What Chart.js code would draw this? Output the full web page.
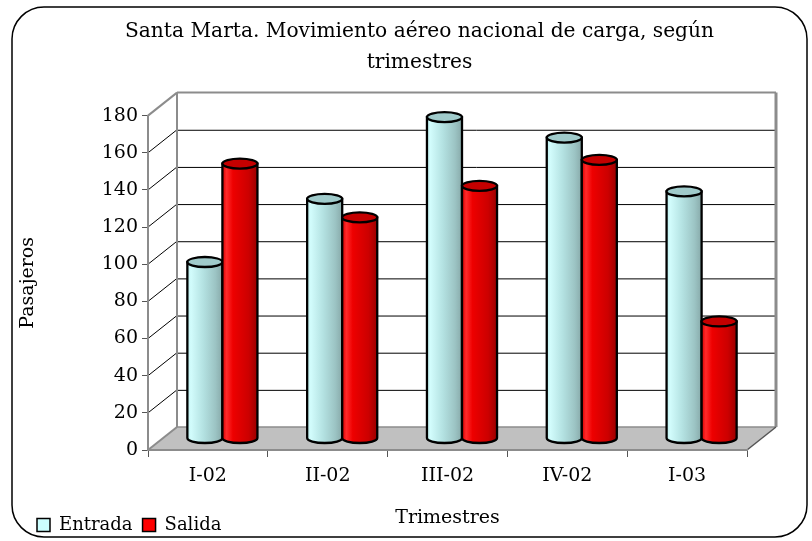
<!DOCTYPE html>
<html>
<head>
<meta charset="utf-8">
<script src="https://cdn.jsdelivr.net/npm/chart.js@4"></script>
<style>
  html, body { margin: 0; padding: 0; background: #fff; }
  #wrap { width: 812px; height: 541px; }
</style>
</head>
<body>
<div id="wrap"><canvas id="chart" width="812" height="541"></canvas></div>
<script>
// data
const trimestres = ["I-02", "II-02", "III-02", "IV-02", "I-03"];
const entrada = [95, 129, 173, 162, 133];
const salida = [148, 119, 136, 150, 63];
const yTicks = [0, 20, 40, 60, 80, 100, 120, 140, 160, 180];

// depth of the fake 3d box
const DX = 29, DY = 23;

const cylColors = [
  { stops: [[0, "#bdeeee"], [0.1, "#d2fcfc"], [0.45, "#b4e2e2"], [0.8, "#9cc4c4"], [1, "#88aaaa"]], top: "#a0cbcb" },
  { stops: [[0, "#d80000"], [0.12, "#ff2a2a"], [0.3, "#ee0000"], [0.75, "#cc0000"], [1, "#9a0000"]], top: "#c40000" }
];

function drawCylinder(ctx, cx, top, bottom, w, col) {
  const rx = w / 2, ry = 5;
  const g = ctx.createLinearGradient(cx - rx, 0, cx + rx, 0);
  col.stops.forEach(s => g.addColorStop(s[0], s[1]));
  ctx.beginPath();
  ctx.moveTo(cx - rx, top);
  ctx.lineTo(cx - rx, bottom);
  ctx.ellipse(cx, bottom, rx, ry, 0, Math.PI, 0, true);
  ctx.lineTo(cx + rx, top);
  ctx.closePath();
  ctx.fillStyle = g;
  ctx.fill();
  ctx.lineWidth = 2.3;
  ctx.strokeStyle = "#000";
  ctx.stroke();
  ctx.beginPath();
  ctx.ellipse(cx, top, rx, ry, 0, 0, Math.PI * 2);
  ctx.fillStyle = col.top;
  ctx.fill();
  ctx.stroke();
}

function line(ctx, x1, y1, x2, y2, color, w) {
  ctx.beginPath();
  ctx.moveTo(x1, y1);
  ctx.lineTo(x2, y2);
  ctx.strokeStyle = color;
  ctx.lineWidth = w;
  ctx.stroke();
}

const box3d = {
  id: "box3d",
  beforeDraw(chart) {
    const ctx = chart.ctx;
    const a = chart.chartArea;
    const ys = chart.scales.y;
    const y0 = ys.getPixelForValue(0);
    const yTop = ys.getPixelForValue(180);
    ctx.save();
    // floor
    ctx.beginPath();
    ctx.moveTo(a.left, y0);
    ctx.lineTo(a.right, y0);
    ctx.lineTo(a.right + DX, y0 - DY);
    ctx.lineTo(a.left + DX, y0 - DY);
    ctx.closePath();
    ctx.fillStyle = "#c0c0c0";
    ctx.fill();
    // back wall grid + side diagonals
    yTicks.forEach(v => {
      const p = ys.getPixelForValue(v);
      if (v > 0 && v < 180) {
        line(ctx, a.left + DX, p - DY + 0.5, a.right + DX, p - DY + 0.5, "#000", 1);
        line(ctx, a.left, p, a.left + DX, p - DY, "#000", 1);
      }
    });
    line(ctx, a.left, yTop, a.left + DX, yTop - DY, "#8c8c8c", 2);
    line(ctx, a.left + DX, yTop - DY, a.right + DX, yTop - DY, "#8c8c8c", 2);
    line(ctx, a.left + DX, yTop - DY, a.left + DX, y0 - DY, "#8c8c8c", 2);
    line(ctx, a.right + DX, yTop - DY, a.right + DX, y0 - DY, "#8c8c8c", 3);
    line(ctx, a.left, y0, a.left + DX, y0 - DY, "#8c8c8c", 2);
    line(ctx, a.left + DX, y0 - DY, a.right + DX, y0 - DY, "#8c8c8c", 1.5);
    line(ctx, a.right, y0, a.right + DX, y0 - DY, "#555", 1.5);
    ctx.restore();
  },
  beforeDatasetsDraw(chart) {
    const ctx = chart.ctx;
    ctx.save();
    chart.data.labels.forEach((lab, i) => {
      chart.data.datasets.forEach((ds, d) => {
        const el = chart.getDatasetMeta(d).data[i];
        drawCylinder(ctx, el.x + DX / 2, el.y - DY / 2, el.base - DY / 2, el.width, cylColors[d]);
      });
    });
    ctx.restore();
    return false;
  },
  afterDraw(chart) {
    const ctx = chart.ctx;
    ctx.save();
    ctx.beginPath();
    ctx.roundRect(12, 7, 795, 530, 32);
    ctx.strokeStyle = "#000";
    ctx.lineWidth = 1.5;
    ctx.stroke();
    ctx.restore();
  }
};

Chart.defaults.font.family = "'DejaVu Serif', serif";
Chart.defaults.color = "#000";

new Chart(document.getElementById("chart"), {
  type: "bar",
  data: {
    labels: trimestres,
    datasets: [
      { label: "Entrada", data: entrada, backgroundColor: "#ccffff", borderColor: "#000", borderWidth: 1.5 },
      { label: "Salida", data: salida, backgroundColor: "#ff0000", borderColor: "#000", borderWidth: 1.5 }
    ]
  },
  options: {
    responsive: false,
    animation: false,
    layout: { padding: { left: 27, right: 0, top: 0, bottom: -3 } },
    datasets: { bar: { categoryPercentage: 0.585, barPercentage: 1.0 } },
    plugins: {
      title: {
        display: true,
        text: ["Santa Marta. Movimiento aéreo nacional de carga, según", "trimestres"],
        font: { size: 20.2, weight: "normal", lineHeight: 1.55 },
        color: "#000",
        padding: { top: 16, bottom: 37 }
      },
      legend: {
        position: "bottom",
        align: "start",
        labels: { boxWidth: 13, boxHeight: 13, padding: 10, font: { size: 18 }, color: "#000" }
      },
      tooltip: { enabled: false }
    },
    scales: {
      x: {
        grid: { display: true, drawOnChartArea: false, drawTicks: true, tickLength: 7, color: "#555" },
        border: { display: true, color: "#8c8c8c", width: 2 },
        ticks: { font: { size: 19 }, padding: 8, color: "#000" },
        title: { display: true, text: "Trimestres", font: { size: 19 }, padding: { top: 0, bottom: -23 } },
        afterFit(s) { s.height = 56; }
      },
      y: {
        min: 0, max: 180,
        grid: { display: true, drawOnChartArea: false, drawTicks: true, tickLength: 6, color: "#555" },
        border: { display: true, color: "#8c8c8c", width: 2 },
        ticks: { stepSize: 20, font: { size: 19 }, padding: 4, color: "#000" },
        title: { display: true, text: "Pasajeros", font: { size: 19 }, padding: { top: -10, bottom: 0 } },
        afterFit(s) { s.width = 148 - 27; }
      },
      y2: {
        position: "right",
        grid: { display: false },
        border: { display: false },
        ticks: { display: false },
        afterFit(s) { s.width = 65; }
      }
    }
  },
  plugins: [box3d]
});
</script>
</body>
</html>
